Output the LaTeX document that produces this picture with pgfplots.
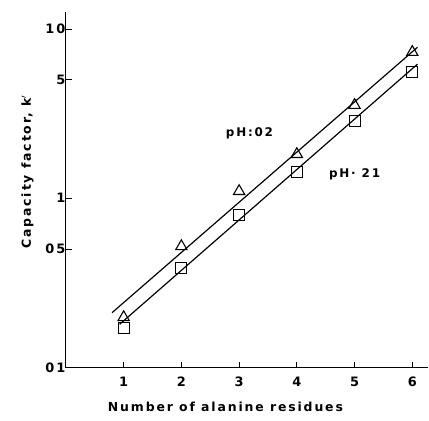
\documentclass[border=0pt]{standalone}
\usepackage{fontspec}
\setmainfont{DejaVu Sans}[LetterSpace=15]
\usepackage{pgfplots}
\pgfplotsset{compat=1.18}
\begin{document}
\begin{tikzpicture}
\path (-66bp,-53bp) rectangle (363bp,368bp);
\begin{axis}[
  at={(0,0)}, anchor=south west,
  scale only axis, width=363bp, height=356bp,
  ymode=log, log basis y=10,
  xmin=0, xmax=6.28, ymin=0.1, ymax=12.6,
  axis x line=bottom, axis y line=left,
  axis line style={-, line width=1.1pt},
  xtick={1,2,3,4,5,6},
  ytick={0.1,0.5,1,5,10},
  yticklabels={01,05,1,5,10},
  minor ytick={},
  tick style={line width=0.9pt, black},
  tick align=inside, major tick length=6bp,
  every tick label/.append style={font=\fontsize{13}{15}\selectfont\bfseries},
  xticklabel style={yshift=-6bp},
  yticklabel style={xshift=3bp},
  /pgf/number format/assume math mode=true,
  xlabel={Number of alanine residues},
  ylabel={Capacity factor, k$'$},
  xlabel style={font=\fontsize{12.5}{14}\selectfont\bfseries, at={(ticklabel cs:0.44)}, anchor=north, yshift=-8bp},
  ylabel style={font=\fontsize{12.5}{14}\selectfont\bfseries, at={(ticklabel cs:0.55)}, anchor=south, yshift=5bp},
  clip=false,
]
\addplot[black, line width=1.2pt] coordinates {(0.8,0.211) (6.09,7.8)};
\addplot[black, line width=1.2pt] coordinates {(0.93,0.18) (6.09,6.2)};
\addplot[only marks, mark=triangle, mark size=6.5bp, mark options={line width=1.1pt, black, fill=white}] coordinates {
(1,0.198) (2,0.52) (3,1.10) (4,1.82) (5,3.55) (6,7.3)};
\addplot[only marks, mark=square, mark size=5.5bp, mark options={line width=1.1pt, black, fill=white}] coordinates {
(1,0.172) (2,0.385) (3,0.80) (4,1.43) (5,2.86) (6,5.57)};
\node[font=\fontsize{12}{14}\selectfont\bfseries] at (axis cs:3.18,2.42) {pH:02};
\node[font=\fontsize{12}{14}\selectfont\bfseries] at (axis cs:5.0,1.38) {pH· 21};
\end{axis}
\end{tikzpicture}
\end{document}
